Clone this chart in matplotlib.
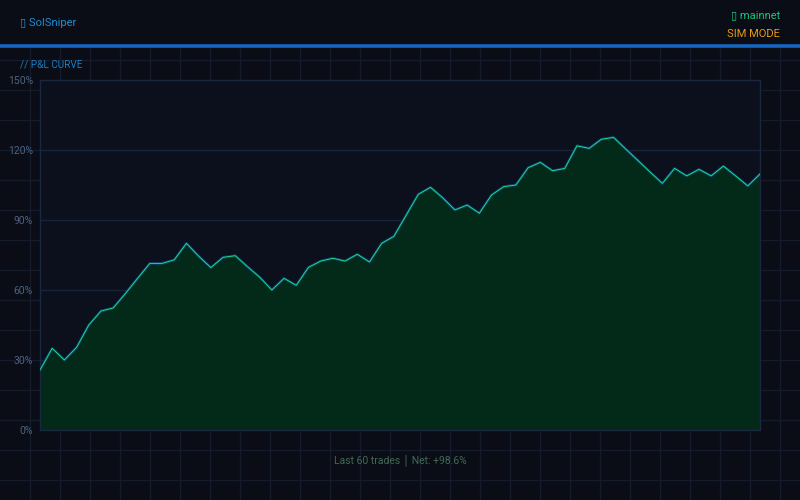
import matplotlib
matplotlib.use("Agg")
import matplotlib.pyplot as plt
import numpy as np

# ---- data ----
pnl_values = [25.7, 35.0, 30.0, 35.4, 45.0, 51.0, 52.3, 58.5, 65.0, 71.4,
              71.4, 72.9, 80.0, 74.5, 69.6, 74.0, 74.7, 70.0, 65.5, 60.0,
              65.0, 62.0, 69.7, 72.4, 73.6, 72.4, 75.3, 72.0, 80.0, 83.0,
              92.0, 101.0, 104.0, 99.5, 94.3, 96.4, 92.9, 100.7, 104.3, 105.0,
              112.4, 114.7, 111.1, 112.1, 121.8, 120.7, 124.6, 125.4, 120.4, 115.5,
              110.5, 105.7, 112.1, 108.9, 111.7, 108.9, 113.1, 108.9, 104.6, 109.7]
y_ticks = [0, 30, 60, 90, 120, 150]
y_tick_labels = ["0%", "30%", "60%", "90%", "120%", "150%"]
title_left = "\u25af SolSniper"
title_net = "\u25af mainnet"
title_mode = "SIM MODE"
section_label = "// P&L CURVE"
footer_text = "Last 60 trades \u2502 Net: +98.6%"

BG = "#0a0d15"
GRID_BG = "#141b2b"
FONT = ["Roboto", "DejaVu Sans"]

fig = plt.figure(figsize=(8, 5), dpi=100, facecolor=BG)

# background layer in pixel coordinates
bg = fig.add_axes([0, 0, 1, 1], zorder=0)
bg.set_xlim(0, 800)
bg.set_ylim(500, 0)
bg.axis("off")
bg.set_facecolor(BG)
for gx in range(30, 800, 30):
    bg.plot([gx, gx], [47, 500], color=GRID_BG, lw=1, zorder=1)
for gy in range(60, 500, 30):
    bg.plot([0, 800], [gy, gy], color=GRID_BG, lw=1, zorder=1)
bg.plot([0, 800], [46, 46], color="#1565c0", lw=2.6, zorder=3)

fig.text(20 / 800, 1 - 23 / 500, title_left, color="#1e8fd6", fontsize=8.0,
         family=FONT, ha="left", va="center")
fig.text(780 / 800, 1 - 15 / 500, title_net, color="#19c37d", fontsize=8.0,
         family=FONT, ha="right", va="center")
fig.text(780 / 800, 1 - 34 / 500, title_mode, color="#e89a12", fontsize=8.0,
         family=FONT, ha="right", va="center")
fig.text(20 / 800, 1 - 64 / 500, section_label, color="#1a7cc4", fontsize=7.2,
         family=FONT, ha="left", va="center")
fig.text(400 / 800, 1 - 460 / 500, footer_text, color="#3f6b55", fontsize=7.5,
         family=FONT, ha="center", va="center")

# main plot
ax = fig.add_axes([40 / 800, 70 / 500, 720 / 800, 350 / 500], zorder=2)
ax.set_facecolor("#0c101c")
x = np.arange(len(pnl_values))
ax.fill_between(x, 0, pnl_values, color="#032a19", lw=0, zorder=2)
ax.plot(x, pnl_values, color="#0a4468", lw=1.9, zorder=3, solid_joinstyle="round")
ax.plot(x, pnl_values, color="#1ee88e", lw=0.6, zorder=4, solid_joinstyle="round")
ax.set_xlim(0, len(pnl_values) - 1)
ax.set_ylim(0, 150)
ax.set_yticks(y_ticks)
ax.set_yticklabels(y_tick_labels, family=FONT, fontsize=7.5, color="#4d6284")
ax.set_xticks([])
ax.tick_params(axis="y", length=0, pad=5)
ax.grid(axis="y", color="#18243a", lw=1, zorder=1)
ax.set_axisbelow(True)
for s in ax.spines.values():
    s.set_color("#1a2740")
    s.set_linewidth(1)

fig.savefig("out.png", dpi=100, facecolor=BG)
